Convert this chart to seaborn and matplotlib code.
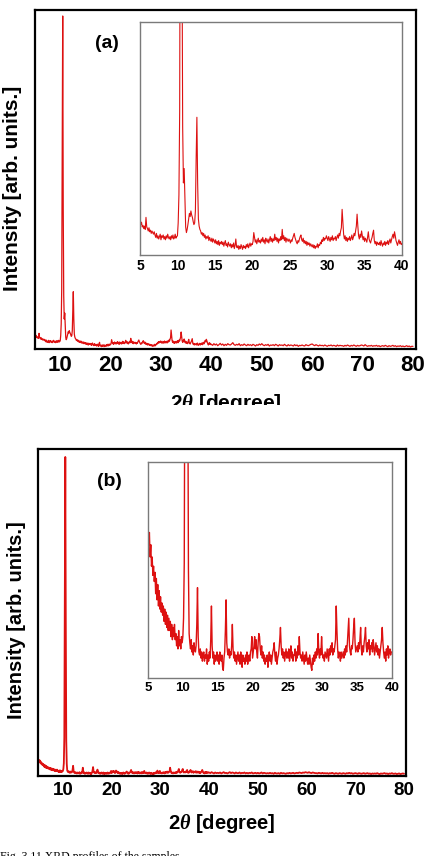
import numpy as np
import pandas as pd
import matplotlib
matplotlib.use("Agg")
import matplotlib.pyplot as plt
import seaborn as sns
from matplotlib.patches import Rectangle

# ---------------- data ----------------
# 2-theta sampling grids (degrees)
theta_fine = np.round(np.arange(50, 400) / 10, 1)      # 5.0 ... 39.9  (0.1 deg)
theta_coarse = np.round(np.arange(160, 321) / 4, 2)    # 40.0 ... 80.0 (0.25 deg)

main_ticks = [10, 20, 30, 40, 50, 60, 70, 80]
inset_ticks = [5, 10, 15, 20, 25, 30, 35, 40]

# sample (a): intensity (arb. units, main peak = 1000)
a_fine = [
    45, 38, 41, 35, 37, 33, 36, 32, 47, 35,
    33, 30, 34, 29, 31, 27, 30, 28, 26, 29,
    25, 22, 27, 21, 24, 20, 23, 26, 19, 24,
    22, 25, 20, 23, 19, 24, 21, 26, 22, 20,
    23, 19, 24, 21, 25, 20, 22, 26, 21, 23,
    24, 40, 75, 180, 600, 1000, 420, 160, 90, 108,
    70, 35, 28, 32, 38, 45, 52, 48, 55, 50,
    47, 42, 38, 40, 55, 120, 172, 90, 45, 36,
    32, 30, 26, 28, 24, 27, 22, 25, 20, 23,
    21, 24, 18, 22, 19, 17, 21, 16, 20, 18,
    15, 19, 14, 17, 13, 18, 12, 16, 14, 17,
    13, 16, 11, 15, 18, 12, 14, 10, 16, 13,
    11, 14, 9, 13, 10, 15, 8, 12, 20, 10,
    9, 12, 7, 11, 8, 13, 10, 7, 12, 9,
    11, 8, 13, 10, 14, 9, 12, 15, 11, 14,
    13, 17, 28, 22, 16, 19, 14, 18, 21, 16,
    18, 15, 20, 17, 22, 16, 19, 14, 21, 18,
    16, 20, 15, 19, 23, 17, 21, 16, 20, 18,
    26, 19, 22, 17, 21, 15, 20, 18, 23, 19,
    32, 20, 24, 18, 22, 16, 21, 19, 17, 20,
    18, 15, 19, 17, 21, 24, 27, 22, 19, 16,
    14, 18, 16, 20, 23, 25, 19, 17, 21, 15,
    18, 14, 17, 12, 16, 13, 15, 11, 14, 12,
    10, 13, 9, 12, 8, 11, 10, 14, 9, 13,
    12, 16, 14, 19, 17, 22, 18, 21, 20, 24,
    21, 18, 23, 20, 17, 22, 19, 24, 18, 21,
    20, 23, 18, 22, 25, 21, 27, 24, 30, 34,
    57, 42, 26, 20, 24, 18, 22, 17, 21, 19,
    23, 18, 21, 25, 19, 22, 27, 24, 30, 36,
    51, 36, 24, 20, 26, 22, 30, 24, 19, 23,
    17, 21, 19, 16, 22, 29, 20, 17, 15, 19,
    22, 27, 31, 18, 14, 17, 12, 16, 14, 13,
    16, 12, 18, 14, 11, 15, 13, 17, 12, 16,
    14, 18, 13, 17, 20, 15, 19, 23, 26, 21,
    29, 24, 18, 15, 12, 16, 19, 14, 17, 13,
]
a_coarse = [
    14, 11, 16, 12, 15, 10, 13, 17,
    12, 15, 10, 14, 11, 16, 13, 12,
    15, 19, 13, 11, 14, 12, 16, 10,
    13, 11, 15, 12, 10, 14, 11, 13,
    10, 14, 12, 9, 13, 11, 15, 12,
    16, 12, 10, 13, 11, 14, 9, 12,
    11, 13, 10, 14, 12, 9, 13, 11,
    12, 10, 14, 11, 9, 13, 10, 12,
    11, 9, 13, 10, 12, 8, 11, 10,
    12, 10, 9, 13, 11, 10, 12, 14,
    15, 12, 10, 13, 11, 9, 12, 10,
    11, 9, 12, 10, 8, 11, 10, 12,
    9, 11, 10, 8, 12, 9, 11, 10,
    10, 8, 11, 9, 12, 10, 8, 11,
    9, 12, 10, 8, 11, 9, 10, 12,
    11, 9, 13, 10, 8, 10, 9, 11,
    8, 10, 9, 11, 8, 10, 7, 9,
    10, 8, 11, 9, 7, 10, 8, 9,
    11, 8, 10, 7, 9, 8, 10, 7,
    9, 7, 8, 10, 7, 9, 6, 8,
    8,
]

# sample (b): intensity (arb. units, main peak = 1000)
b_fine = [
    49, 46, 50, 42, 46, 39, 42, 36, 39, 34,
    37, 30, 35, 28, 33, 26, 31, 25, 29, 24,
    27, 23, 26, 21, 25, 20, 24, 19, 23, 18,
    22, 18, 21, 16, 20, 15, 19, 16, 20, 15,
    17, 13, 16, 12, 18, 13, 15, 12, 16, 14,
    16, 22, 40, 120, 600, 1000, 480, 110, 38, 17,
    14, 12, 15, 11, 13, 10, 14, 12, 11, 13,
    20, 32, 16, 11, 10, 12, 9, 11, 8, 10,
    11, 8, 10, 9, 12, 7, 10, 8, 11, 9,
    15, 26, 13, 9, 11, 7, 10, 8, 9, 11,
    8, 10, 7, 11, 9, 8, 10, 6, 5, 9,
    11, 18, 28, 14, 11, 10, 12, 9, 11, 10,
    13, 20, 12, 9, 11, 8, 10, 7, 9, 11,
    8, 10, 7, 11, 9, 6, 10, 8, 9, 7,
    10, 8, 11, 7, 9, 10, 8, 11, 12, 16,
    9, 11, 13, 16, 12, 15, 11, 9, 14, 17,
    16, 12, 10, 13, 9, 11, 8, 10, 7, 9,
    8, 10, 6, 9, 11, 8, 10, 7, 9, 11,
    12, 14, 10, 8, 11, 7, 9, 10, 12, 15,
    19, 13, 10, 12, 9, 11, 8, 10, 12, 9,
    11, 9, 12, 8, 10, 13, 9, 11, 8, 10,
    10, 12, 8, 11, 9, 13, 10, 16, 11, 9,
    10, 8, 11, 9, 7, 10, 8, 11, 9, 7,
    9, 7, 10, 8, 6, 5, 9, 7, 10, 8,
    11, 9, 12, 10, 17, 11, 9, 12, 10, 16,
    11, 9, 10, 8, 11, 10, 9, 12, 10, 8,
    12, 10, 13, 11, 14, 10, 12, 11, 13, 15,
    26, 18, 12, 9, 11, 10, 8, 11, 9, 10,
    11, 9, 12, 10, 13, 11, 14, 18, 22, 13,
    11, 10, 13, 12, 15, 19, 22, 14, 11, 12,
    13, 11, 14, 12, 15, 19, 12, 10, 13, 11,
    14, 16, 19, 13, 11, 14, 12, 15, 10, 13,
    12, 14, 11, 15, 13, 10, 12, 14, 11, 13,
    10, 12, 9, 11, 13, 15, 19, 14, 11, 9,
    11, 8, 12, 10, 13, 9, 11, 12, 10, 11,
]
b_coarse = [
    11, 9, 12, 10, 8, 11, 9, 10,
    9, 11, 8, 10, 12, 9, 10, 8,
    10, 12, 9, 11, 10, 8, 11, 9,
    9, 11, 8, 10, 9, 11, 8, 10,
    8, 10, 9, 11, 8, 9, 10, 8,
    10, 8, 9, 11, 8, 10, 9, 8,
    9, 8, 10, 8, 9, 7, 10, 8,
    8, 9, 7, 10, 8, 9, 8, 7,
    9, 8, 10, 8, 9, 10, 8, 9,
    10, 9, 11, 10, 9, 11, 10, 12,
    11, 10, 12, 10, 9, 11, 10, 9,
    9, 8, 10, 9, 8, 10, 8, 9,
    8, 9, 7, 9, 8, 10, 8, 7,
    9, 8, 7, 9, 8, 7, 9, 8,
    7, 9, 8, 10, 8, 9, 7, 8,
    9, 8, 7, 9, 8, 7, 8, 9,
    7, 8, 9, 7, 8, 6, 8, 7,
    8, 7, 9, 7, 6, 8, 7, 8,
    9, 7, 8, 6, 8, 7, 9, 7,
    7, 8, 6, 7, 8, 6, 7, 8,
    7,
]

# ---------------- style ----------------
sns.set_theme(style="white")
plt.rcParams["font.family"] = ["Liberation Sans", "DejaVu Sans"]
plt.rcParams["font.weight"] = "bold"
plt.rcParams["text.color"] = "black"
plt.rcParams["axes.labelcolor"] = "black"
plt.rcParams["xtick.color"] = "black"
plt.rcParams["ytick.color"] = "black"
plt.rcParams["mathtext.fontset"] = "custom"
plt.rcParams["mathtext.it"] = "Liberation Serif:italic:bold"
plt.rcParams["mathtext.rm"] = "Liberation Sans:bold"

RED = "#DD1111"
W, H = 429, 856


def frac(left, top, right, bottom):
    return [left / W, 1 - bottom / H, (right - left) / W, (bottom - top) / H]


fig = plt.figure(figsize=(W / 100, H / 100), dpi=100)


def panel(fine, coarse, main_box, inset_box, main_ylim, inset_ylim, main_xlim,
          main_fs, label_fs, inset_fs, lw_main, lw_inset, tag, tag_xy, ylab_xy, labelpad):
    df = pd.DataFrame({
        "two_theta": np.concatenate([theta_fine, theta_coarse]),
        "intensity": np.array(fine + coarse, dtype=float),
    })
    ax = fig.add_axes(frac(*main_box))
    sns.lineplot(data=df, x="two_theta", y="intensity", ax=ax, color=RED,
                 linewidth=lw_main, estimator=None, sort=False)
    ax.set_xlim(*main_xlim)
    ax.set_ylim(*main_ylim)
    ax.set_xticks(main_ticks)
    ax.set_xticklabels([str(t) for t in main_ticks])
    ax.set_yticks([])
    ax.tick_params(axis="x", length=0, labelsize=main_fs, pad=4, labelcolor="black")
    for s in ax.spines.values():
        s.set_color("black")
        s.set_linewidth(1.6)
    ax.set_xlabel(r"2$\theta$ [degree]", fontsize=label_fs, fontweight="bold",
                  labelpad=labelpad, color="black")
    ax.set_ylabel("Intensity [arb. units.]", fontsize=label_fs, fontweight="bold",
                  color="black")
    ax.yaxis.label.set_verticalalignment("center")
    ax.yaxis.set_label_coords(*ylab_xy)

    ins = fig.add_axes(frac(*inset_box))
    sub = df[df["two_theta"] <= 40]
    sns.lineplot(data=sub, x="two_theta", y="intensity", ax=ins, color=RED,
                 linewidth=lw_inset, estimator=None, sort=False)
    ins.set_xlim(5, 40)
    ins.set_ylim(*inset_ylim)
    ins.set_xticks(inset_ticks)
    ins.set_xticklabels([str(t) for t in inset_ticks])
    ins.set_yticks([])
    ins.set_xlabel("")
    ins.set_ylabel("")
    ins.tick_params(axis="x", length=0, labelsize=inset_fs, pad=3, labelcolor="black")
    for s in ins.spines.values():
        s.set_color("#7a7a7a")
        s.set_linewidth(1.0)

    fig.text(tag_xy[0] / W, 1 - tag_xy[1] / H, tag, fontsize=14, fontweight="bold",
             ha="center", va="center", color="black")
    return ax


panel(a_fine, a_coarse, (35, 10, 416, 349), (140, 22, 402, 255),
      (0, 1018), (0, 291), (5, 80.6), 16, 15, 10, 0.9, 0.8,
      "(a)", (107, 43), (-0.059, 0.475), 12)

panel(b_fine, b_coarse, (38, 449, 406, 776), (148, 462, 392, 678),
      (0, 1025), (2.5, 73), (4.9, 80.4), 13.5, 14.5, 9.5, 1.3, 1.0,
      "(b)", (109, 482), (-0.058, 0.477), 10)

# blank band (panel (a) x-label is cut off in the source layout)
fig.patches.append(Rectangle((0, 1 - 445 / H), 1, 40 / H, transform=fig.transFigure,
                             facecolor="white", edgecolor="none", zorder=20))

# figure caption (partially visible at the bottom edge, as in the source)
fig.text(0.0, 1 - 860 / H, "Fig. 3.11 XRD profiles of the samples",
         fontsize=8.5, fontweight="normal", family=["Liberation Serif", "DejaVu Serif"],
         ha="left", va="baseline", color="black")

fig.savefig("out.png", dpi=100)
